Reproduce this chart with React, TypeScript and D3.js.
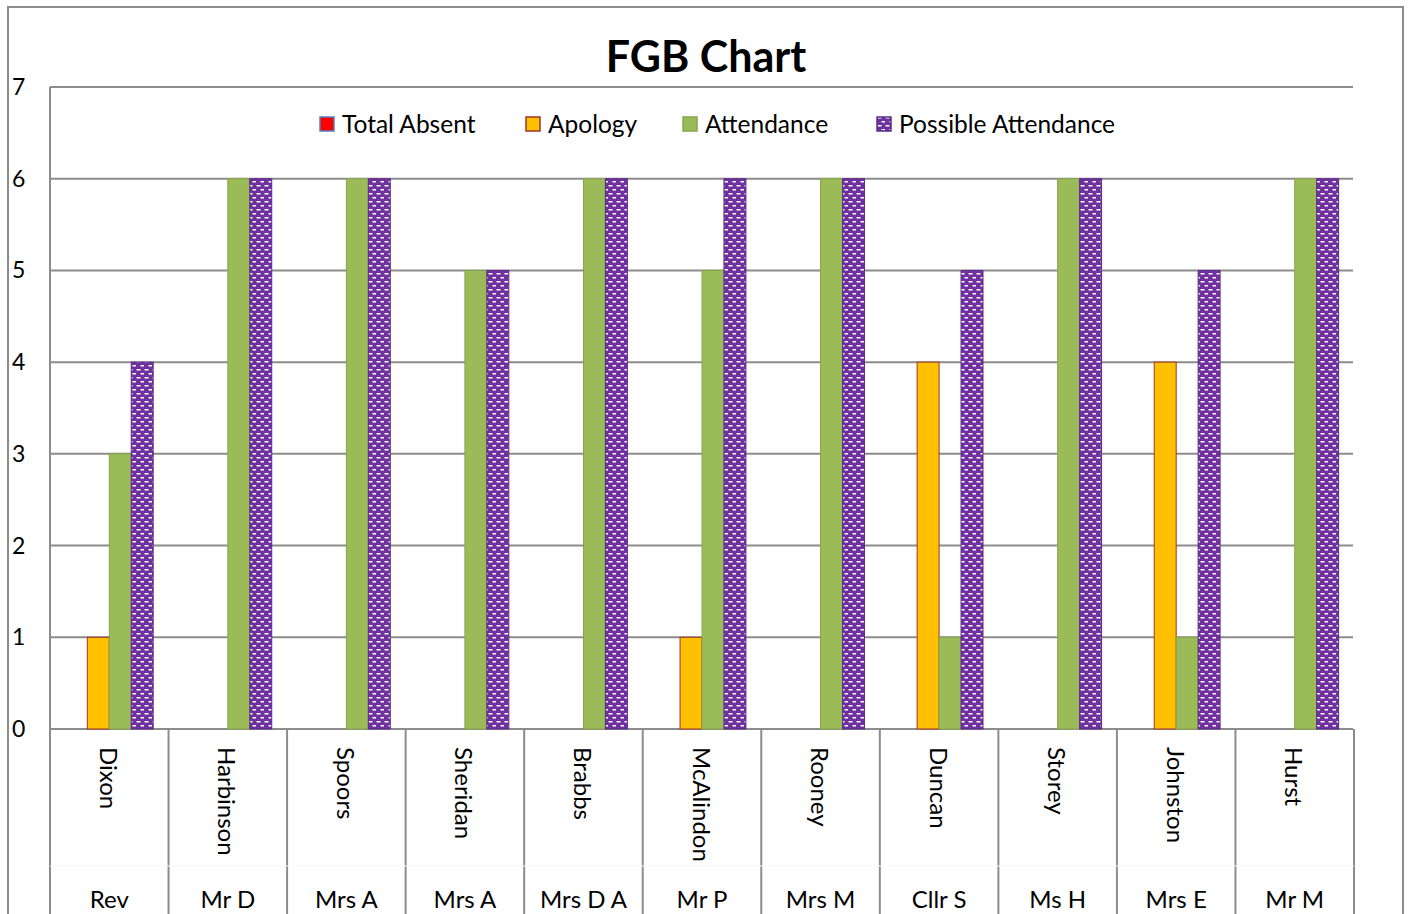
import React, {useEffect, useRef} from 'react';
import * as d3 from 'd3';

const names = ['Dixon', 'Harbinson', 'Spoors', 'Sheridan', 'Brabbs', 'McAlindon', 'Rooney', 'Duncan', 'Storey', 'Johnston', 'Hurst'];
const titles = ['Rev', 'Mr D', 'Mrs A', 'Mrs A', 'Mrs D A', 'Mr P', 'Mrs M', 'Cllr S', 'Ms H', 'Mrs E', 'Mr M'];

const totalAbsent = [0, 0, 0, 0, 0, 0, 0, 0, 0, 0, 0];
const apology = [1, 0, 0, 0, 0, 1, 0, 4, 0, 4, 0];
const attendance = [3, 6, 6, 5, 6, 5, 6, 1, 6, 1, 6];
const possible = [4, 6, 6, 5, 6, 6, 6, 5, 6, 5, 6];

const seriesNames = ['Total Absent', 'Apology', 'Attendance', 'Possible Attendance'];
const yTicks = [0, 1, 2, 3, 4, 5, 6, 7];

const FONT = 'Lato, "Open Sans", sans-serif';
const W = 1410;
const H = 914;

function App() {
  const ref = useRef<SVGSVGElement>(null);

  useEffect(() => {
    const svg = d3.select(ref.current);
    svg.selectAll('*').remove();

    const left = 50, right = 1354, top = 87, bottom = 729;

    const defs = svg.append('defs');
    const pat = defs.append('pattern')
      .attr('id', 'dots')
      .attr('patternUnits', 'userSpaceOnUse')
      .attr('width', 8)
      .attr('height', 8);
    pat.append('rect').attr('width', 8).attr('height', 8).attr('fill', '#7030A0');
    pat.append('rect').attr('x', 0.5).attr('y', 1).attr('width', 4).attr('height', 1.5).attr('fill', '#fff');
    pat.append('rect').attr('x', 4.5).attr('y', 5).attr('width', 4).attr('height', 1.5).attr('fill', '#fff');

    // outer chart border
    svg.append('rect')
      .attr('x', 8).attr('y', 7)
      .attr('width', 1395).attr('height', 920)
      .attr('fill', '#fff')
      .attr('stroke', '#8c8c8c')
      .attr('stroke-width', 2);

    const x = d3.scaleBand<string>()
      .domain(names)
      .range([left, right])
      .paddingInner(0)
      .paddingOuter(0);

    const xs = d3.scaleBand<string>()
      .domain(seriesNames)
      .range([0, x.bandwidth()])
      .paddingOuter(0.7)
      .paddingInner(0);

    const y = d3.scaleLinear().domain([0, 7]).range([bottom, top]);

    // gridlines
    svg.append('g')
      .selectAll('line')
      .data(yTicks)
      .join('line')
      .attr('x1', left).attr('x2', right - 1)
      .attr('y1', d => y(d)).attr('y2', d => y(d))
      .attr('stroke', '#8c8c8c')
      .attr('stroke-width', 2);

    // y tick labels
    svg.append('g')
      .selectAll('text')
      .data(yTicks)
      .join('text')
      .attr('x', 12)
      .attr('y', d => y(d))
      .attr('dy', '0.35em')
      .attr('font-family', FONT)
      .attr('font-size', 23)
      .text(d => d);

    // category dividers
    const edges = names.map(n => x(n) as number).concat([right]);
    svg.append('g')
      .selectAll('line')
      .data(edges)
      .join('line')
      .attr('x1', d => d).attr('x2', d => d)
      .attr('y1', (d, i) => (i === 0 ? top : bottom)).attr('y2', H)
      .attr('stroke', '#8c8c8c')
      .attr('stroke-width', 2);

    svg.append('line')
      .attr('x1', left).attr('x2', right)
      .attr('y1', 866).attr('y2', 866)
      .attr('stroke', '#f7f7f7')
      .attr('stroke-width', 1);

    const series = [
      {name: 'Total Absent', values: totalAbsent, fill: '#FF0000', stroke: '#4F81BD'},
      {name: 'Apology', values: apology, fill: '#FFC000', stroke: '#A0352A'},
      {name: 'Attendance', values: attendance, fill: '#9BBB59', stroke: '#86A64A'},
      {name: 'Possible Attendance', values: possible, fill: 'url(#dots)', stroke: '#5B2B88'},
    ];

    series.forEach(s => {
      svg.append('g')
        .selectAll('rect')
        .data(s.values.map((v, i) => ({v, n: names[i]})).filter(d => d.v > 0))
        .join('rect')
        .attr('x', d => (x(d.n) as number) + (xs(s.name) as number))
        .attr('y', d => y(d.v))
        .attr('width', xs.bandwidth())
        .attr('height', d => y(0) - y(d.v))
        .attr('fill', s.fill)
        .attr('stroke', s.stroke)
        .attr('stroke-width', 1);
    });

    // category labels, rotated
    svg.append('g')
      .selectAll('text')
      .data(names)
      .join('text')
      .attr('transform', d => `translate(${(x(d) as number) + x.bandwidth() / 2},747) rotate(90)`)
      .attr('dominant-baseline', 'central')
      .attr('font-family', FONT)
      .attr('font-size', 24)
      .text(d => d);

    svg.append('g')
      .selectAll('text')
      .data(titles)
      .join('text')
      .attr('x', (d, i) => (x(names[i]) as number) + x.bandwidth() / 2)
      .attr('y', 908)
      .attr('text-anchor', 'middle')
      .attr('font-family', FONT)
      .attr('font-size', 24)
      .text(d => d);

    // title
    svg.append('text')
      .attr('x', 706)
      .attr('y', 72)
      .attr('text-anchor', 'middle')
      .attr('font-family', FONT)
      .attr('font-weight', 'bold')
      .attr('font-size', 43)
      .text('FGB Chart');

    // legend
    const legendX = [320, 526, 683, 877];
    const lg = svg.append('g')
      .selectAll('g')
      .data(series)
      .join('g')
      .attr('transform', (d, i) => `translate(${legendX[i]},124)`);
    lg.append('rect')
      .attr('x', 0).attr('y', -7)
      .attr('width', 14).attr('height', 14)
      .attr('fill', d => d.fill)
      .attr('stroke', d => d.stroke)
      .attr('stroke-width', 1.5);
    lg.append('text')
      .attr('x', 22)
      .attr('dy', '0.35em')
      .attr('font-family', FONT)
      .attr('font-size', 24.5)
      .text(d => d.name);
  }, []);

  return (
    <svg ref={ref} width={W} height={H} style={{position: 'absolute', left: 0, top: 0}}/>
  );
}

export default App;
